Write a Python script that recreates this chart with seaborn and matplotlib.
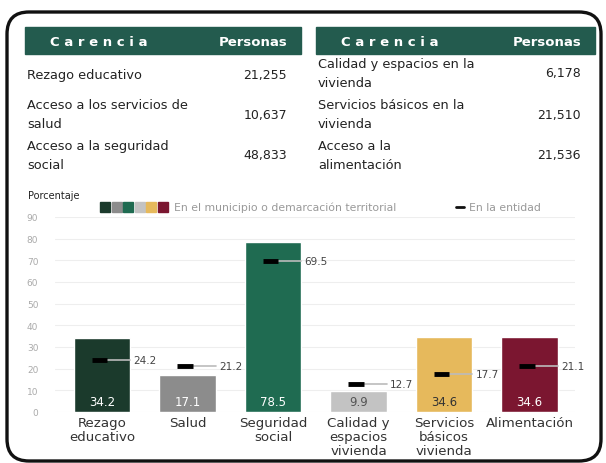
import matplotlib.pyplot as plt
import seaborn as sns
import pandas as pd
from matplotlib.patches import Rectangle, FancyBboxPatch

sns.set_theme(style="white")
plt.rcParams['font.family'] = ['DejaVu Sans']

# Table data
left_rows = ["Rezago educativo", "Acceso a los servicios de\nsalud", "Acceso a la seguridad\nsocial"]
left_people = ["21,255", "10,637", "48,833"]
right_rows = ["Calidad y espacios en la\nvivienda", "Servicios básicos en la\nvivienda", "Acceso a la\nalimentación"]
right_people = ["6,178", "21,510", "21,536"]

# Chart data
categories = ["Rezago\neducativo", "Salud", "Seguridad\nsocial", "Calidad y\nespacios\nvivienda",
              "Servicios\nbásicos\nvivienda", "Alimentación"]
municipio = [34.2, 17.1, 78.5, 9.9, 34.6, 34.6]
entidad = [24.2, 21.2, 69.5, 12.7, 17.7, 21.1]
colors = ["#1b3a2c", "#8c8c8c", "#1f6b51", "#c3c3c3", "#e6b95c", "#7b1630"]
label_colors = ["white", "white", "white", "#555555", "#333333", "white"]
green = "#235b4e"

fig = plt.figure(figsize=(6.06, 4.64), dpi=100)

# background layer in pixel coordinates
bg = fig.add_axes([0, 0, 1, 1], zorder=0)
bg.set_xlim(0, 606)
bg.set_ylim(464, 0)
bg.axis('off')
bg.add_patch(FancyBboxPatch((7, 13), 594, 449, boxstyle="round,pad=0,rounding_size=22",
                            fill=False, lw=2.4, ec="#111111"))

# tables
for x0, x1, rows, nums in [(25, 301, left_rows, left_people), (316, 595, right_rows, right_people)]:
    bg.add_patch(Rectangle((x0, 28), x1 - x0, 27, color=green))
    bg.text(x0 + 74, 42, "C a r e n c i a", color="white", fontsize=9.5, fontweight="bold",
            ha="center", va="center")
    bg.text(x1 - 14, 42, "Personas", color="white", fontsize=9.5, fontweight="bold",
            ha="right", va="center")
    ys = [75, 115, 156] if x0 == 25 else [74, 115, 156]
    for y, r, n in zip(ys, rows, nums):
        bg.text(x0 + 2, y, r, fontsize=9.3, color="#222222", ha="left", va="center", linespacing=1.6)
        bg.text(x1 - 14, y, n, fontsize=9, color="#222222", ha="right", va="center")

bg.text(28, 196, "Porcentaje", fontsize=7, color="#222222", ha="left", va="center")

# legend
for i, c in enumerate(colors):
    bg.add_patch(Rectangle((100 + i * 11.5, 203), 10, 10, color=c))
bg.text(174, 208, "En el municipio o demarcación territorial", fontsize=7.8, color="#999999",
        ha="left", va="center")
bg.plot([456, 464], [208, 208], color="#111111", lw=2)
bg.text(469, 208, "En la entidad", fontsize=7.8, color="#999999", ha="left", va="center")

# chart
ax = fig.add_axes([55 / 606, 51 / 464, 520 / 606, 195 / 464], zorder=1)
ax.set_facecolor("none")
df = pd.DataFrame({"cat": categories, "mun": municipio})
sns.barplot(data=df, x="cat", y="mun", hue="cat", palette=colors, legend=False,
            width=0.66, saturation=1, ax=ax)
ax.set_xlim(-0.55, 5.53)
ax.set_ylim(0, 90)
ax.set_yticks(range(0, 91, 10))
ax.yaxis.grid(True, color="#eeeeee", lw=0.8)
ax.set_axisbelow(True)
for s in ax.spines.values():
    s.set_visible(False)
ax.set_xlabel("")
ax.set_ylabel("")
ax.tick_params(axis='y', labelsize=6.5, labelcolor="#aaaaaa", length=0, pad=12)
ax.tick_params(axis='x', labelsize=9.6, labelcolor="#333333", length=0, pad=3)
for lab in ax.get_xticklabels():
    lab.set_linespacing(1.08)

for i, (m, e) in enumerate(zip(municipio, entidad)):
    ax.text(i, 5, f"{m}", color=label_colors[i], fontsize=8.5, ha="center", va="center")
    ax.plot([i + 0.06, i + 0.33], [e, e], color="#bbbbbb", lw=1.2, zorder=3)
    ax.plot([i - 0.12, i + 0.06], [e, e], color="#000000", lw=3.5, zorder=4, solid_capstyle="butt")
    ax.text(i + 0.37, e, f"{e}", color="#444444", fontsize=7.5, ha="left", va="center")

fig.savefig("out.png", dpi=100)
